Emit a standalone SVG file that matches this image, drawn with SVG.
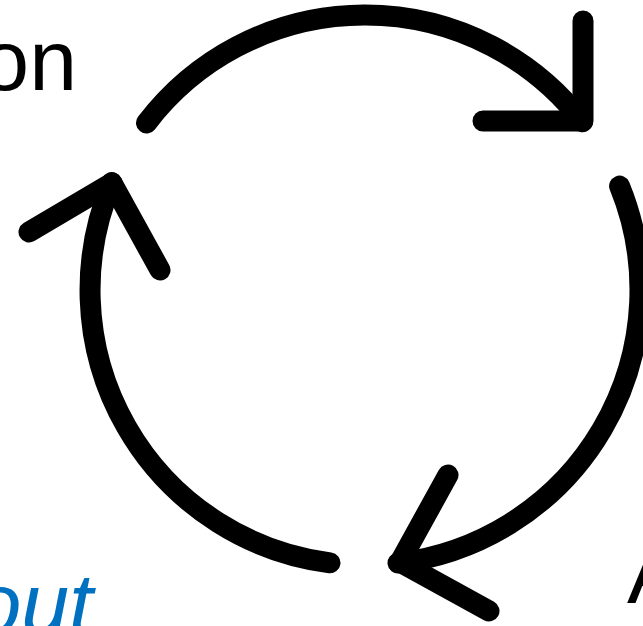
<svg xmlns="http://www.w3.org/2000/svg" width="643" height="626" viewBox="0 0 643 626">
<style>
.c{fill:none;stroke:#000;stroke-width:21;stroke-linecap:round;stroke-linejoin:round}
.t{font-family:"Liberation Sans",Arial,sans-serif;font-size:86px}
</style>
<rect width="643" height="626" fill="#fff"/>
<g id="connectors">
<path class="c" d="M146.5,123 A275,275 0 0 1 582.5,121.8"/>
<polyline class="c" points="583,21 583,121 483,121"/>
<path class="c" d="M619.6,186.1 A275,275 0 0 1 398,563"/>
<polyline class="c" points="448,475 400,562 489,611"/>
<path class="c" d="M330,562.8 A275,275 0 0 1 111.9,182.6"/>
<polyline class="c" points="29,232 112,183 160,270"/>
</g>
<g id="node-top"><text class="t" x="77" y="90" text-anchor="end" fill="#000">on</text></g>
<g id="node-bottom-left"><text class="t" x="93" y="633" text-anchor="end" font-style="italic" fill="#0070C0">out</text></g>
<g id="node-bottom-right"><text class="t" x="627" y="603" fill="#000">A</text></g>
</svg>
